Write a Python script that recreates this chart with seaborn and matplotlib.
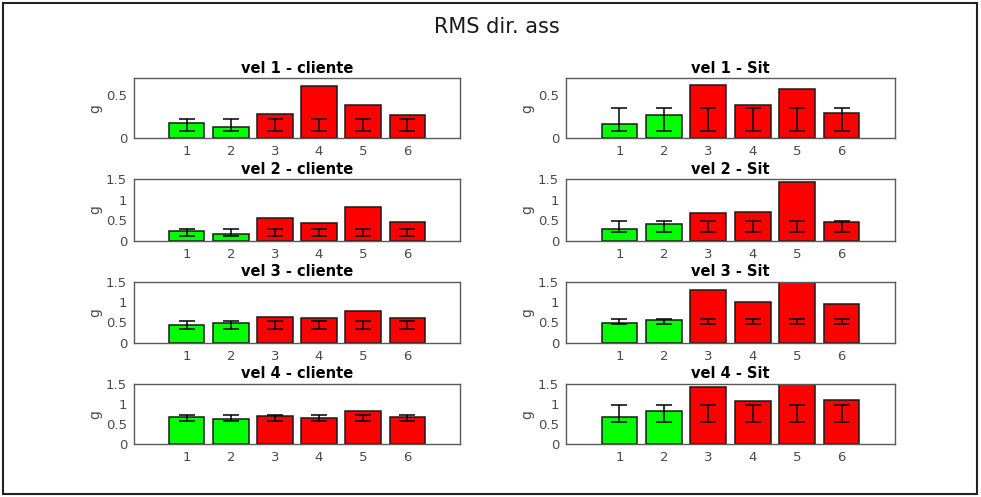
import numpy as np
import pandas as pd
import matplotlib
matplotlib.use("Agg")
import matplotlib.pyplot as plt
import matplotlib.patches as mpatches
import seaborn as sns

sns.set_style("white")
plt.rcParams['font.family'] = ['DejaVu Sans']

# ---------------- data ----------------
categories = ["1", "2", "3", "4", "5", "6"]
bar_colors = ["#00ff00", "#00ff00", "#ff0000", "#ff0000", "#ff0000", "#ff0000"]

titles = ["vel 1 - cliente", "vel 1 - Sit",
          "vel 2 - cliente", "vel 2 - Sit",
          "vel 3 - cliente", "vel 3 - Sit",
          "vel 4 - cliente", "vel 4 - Sit"]

vel1_cliente = [0.183, 0.133, 0.28, 0.614, 0.39, 0.27]
vel1_sit     = [0.172, 0.27, 0.626, 0.39, 0.575, 0.297]
vel2_cliente = [0.23, 0.164, 0.547, 0.433, 0.83, 0.46]
vel2_sit     = [0.286, 0.40, 0.685, 0.71, 1.428, 0.457]
vel3_cliente = [0.435, 0.49, 0.64, 0.607, 0.77, 0.60]
vel3_sit     = [0.49, 0.55, 1.30, 1.00, 1.55, 0.95]
vel4_cliente = [0.687, 0.637, 0.712, 0.662, 0.828, 0.687]
vel4_sit     = [0.687, 0.836, 1.418, 1.07, 1.55, 1.10]

series = [vel1_cliente, vel1_sit, vel2_cliente, vel2_sit,
          vel3_cliente, vel3_sit, vel4_cliente, vel4_sit]

# reference band shown as error bars (same for every bar of a panel)
err_center = [0.158, 0.221, 0.204, 0.343, 0.442, 0.513, 0.66, 0.762]
err_half   = [0.068, 0.131, 0.082, 0.138, 0.098, 0.062, 0.078, 0.216]

ylims = [0.7, 0.7, 1.5, 1.5, 1.5, 1.5, 1.5, 1.5]
yticks_small = [0, 0.5]
yticks_big = [0, 0.5, 1, 1.5]
ytick_labels_small = ["0", "0.5"]
ytick_labels_big = ["0", "0.5", "1", "1.5"]

# ---------------- layout ----------------
W, H = 981, 497
fig = plt.figure(figsize=(W / 100, H / 100), dpi=100)

col_x = [(134, 460), (566, 895)]
row_y = [(78.3, 138.3), (179.3, 240.7), (281.7, 342.7), (384, 444.3)]

text_gray = "#4a4a4a"
spine_gray = "#5a5a5a"

for i, (title, vals) in enumerate(zip(titles, series)):
    r, c = divmod(i, 2)
    x0, x1 = col_x[c]
    y0, y1 = row_y[r]
    ax = fig.add_axes([x0 / W, 1 - y1 / H, (x1 - x0) / W, (y1 - y0) / H])
    df = pd.DataFrame({"cat": categories, "val": vals})
    sns.barplot(data=df, x="cat", y="val", hue="cat", palette=bar_colors,
                legend=False, width=0.8, edgecolor="#1a1a1a", linewidth=1.1,
                saturation=1, ax=ax)
    xs = np.arange(len(categories))
    ax.errorbar(xs, [err_center[i]] * len(xs), yerr=[err_half[i]] * len(xs),
                fmt="none", ecolor="black", elinewidth=1.1, capsize=5.5,
                capthick=1.1, zorder=5)
    ax.set_xlim(-1.2, 6.2)
    ax.set_ylim(0, ylims[i])
    if ylims[i] < 1:
        ax.set_yticks(yticks_small)
        ax.set_yticklabels(ytick_labels_small)
    else:
        ax.set_yticks(yticks_big)
        ax.set_yticklabels(ytick_labels_big)
    ax.set_xlabel("")
    ax.set_ylabel("g", color=text_gray, fontsize=10, labelpad=3)
    ax.set_title(title, fontsize=10.5, fontweight="bold", color="black", pad=4)
    ax.tick_params(axis="both", length=0, labelsize=9.5, colors=text_gray, pad=5)
    for sp in ax.spines.values():
        sp.set_visible(True)
        sp.set_color(spine_gray)
        sp.set_linewidth(1.0)

fig.text(496.5 / W, 1 - 27 / H, "RMS dir. ass", ha="center", va="center",
         fontsize=15, color="#1a1a1a")

border = mpatches.Rectangle((3 / W, 3 / H), (977 - 3) / W, (494 - 3) / H,
                            transform=fig.transFigure, fill=False,
                            edgecolor="#222222", linewidth=1.5)
fig.patches.append(border)

fig.savefig("out.png", dpi=100)
